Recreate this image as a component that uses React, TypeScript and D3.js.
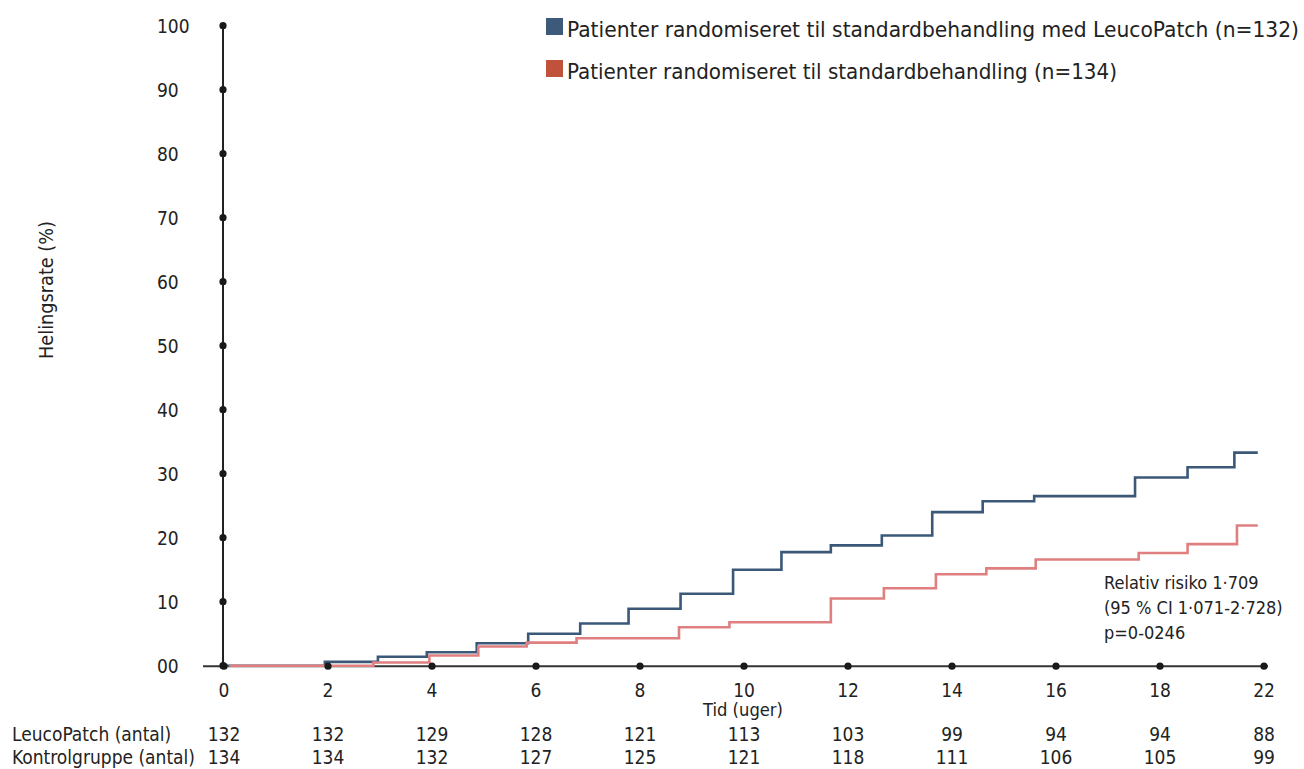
import React from "react";
import * as d3 from "d3";

const yTickValues = [0, 10, 20, 30, 40, 50, 60, 70, 80, 90, 100];
const yTickLabels = ["00", "10", "20", "30", "40", "50", "60", "70", "80", "90", "100"];
const xTickValues = [0, 2, 4, 6, 8, 10, 12, 14, 16, 18, 20];
const xTickLabels = ["0", "2", "4", "6", "8", "10", "12", "14", "16", "18", "22"];

const blueTimes = [0, 1.94, 2.96, 3.9, 4.86, 5.85, 6.85, 7.78, 8.78, 9.79, 10.72, 11.67, 12.65, 13.62, 14.59, 15.58, 17.52, 18.53, 19.43, 19.88];
const blueValues = [0, 0.6, 1.4, 2.1, 3.5, 5.0, 6.6, 8.9, 11.25, 15.0, 17.75, 18.8, 20.35, 24.0, 25.7, 26.5, 29.4, 31.0, 33.3, 33.3];
const redTimes = [0.1, 2.87, 3.95, 4.89, 5.82, 6.78, 8.75, 9.72, 11.67, 12.69, 13.69, 14.66, 15.61, 17.59, 18.53, 19.48, 19.88];
const redValues = [0, 0.5, 1.6, 3.0, 3.6, 4.3, 6.0, 6.8, 10.5, 12.1, 14.3, 15.2, 16.6, 17.6, 19.0, 21.9, 21.9];

const leucoCounts = [132, 132, 129, 128, 121, 113, 103, 99, 94, 94, 88];
const kontrolCounts = [134, 134, 132, 127, 125, 121, 118, 111, 106, 105, 99];

const legendLabels = [
  "Patienter randomiseret til standardbehandling med LeucoPatch (n=132)",
  "Patienter randomiseret til standardbehandling (n=134)",
];
const legendColors = ["#3e5a7a", "#c0523c"];
const annotationLines = ["Relativ risiko 1·709", "(95 % CI 1·071-2·728)", "p=0-0246"];

const FONT = "'Liberation Sans Narrow', 'DejaVu Sans Condensed', 'Roboto Condensed', 'Noto Sans', sans-serif";

export default function App() {
  const x = d3.scaleLinear().domain([0, 20]).range([224, 1264]);
  const y = d3.scaleLinear().domain([0, 100]).range([665.7, 25.7]);
  const line = d3
    .line<[number, number]>()
    .x((d) => x(d[0]))
    .y((d) => y(d[1]))
    .curve(d3.curveStepAfter);
  const blue = line(blueTimes.map((t, i) => [t, blueValues[i]]));
  const red = line(redTimes.map((t, i) => [t, redValues[i]]));
  const textColor = "#222";

  return (
    <svg
      width={1304}
      height={769}
      style={{ position: "absolute", left: 0, top: 0, display: "block", background: "#fff" }}
      fontFamily={FONT}
    >
      {/* legend */}
      {legendLabels.map((l, i) => (
        <g key={l}>
          <rect x={546} y={18 + i * 42} width={17} height={17} fill={legendColors[i]} />
          <text
            x={567}
            y={37 + i * 42}
            fontSize={22}
            fill={textColor}
            textLength={i === 0 ? 732 : 550}
            lengthAdjust="spacingAndGlyphs"
          >
            {l}
          </text>
        </g>
      ))}

      {/* axes */}
      <line x1={x(0) - 1} x2={x(0) - 1} y1={y(100)} y2={y(0)} stroke="#222" strokeWidth={2} />
      <line x1={203} x2={1268} y1={y(0) + 0.5} y2={y(0) + 0.5} stroke="#333" strokeWidth={2} />

      {/* curves */}
      <path d={blue || ""} fill="none" stroke="#3b5878" strokeWidth={2.6} />
      <path d={red || ""} fill="none" stroke="#e07f80" strokeWidth={2.6} />

      {/* y ticks */}
      {yTickValues.map((v, i) => (
        <g key={v}>
          <circle cx={x(0) - 1} cy={y(v)} r={3.6} fill="#1a1a1a" />
          <text x={157} y={y(v) + 7} fontSize={19} fill={textColor}>
            {yTickLabels[i]}
          </text>
        </g>
      ))}
      {/* x ticks */}
      {xTickValues.map((v, i) => (
        <g key={v}>
          <circle cx={x(v)} cy={y(0) + 0.5} r={3.6} fill="#1a1a1a" />
          <text x={x(v)} y={697} fontSize={19} textAnchor="middle" fill={textColor}>
            {xTickLabels[i]}
          </text>
          <text x={x(v)} y={741} fontSize={19} textAnchor="middle" fill={textColor}>
            {leucoCounts[i]}
          </text>
          <text x={x(v)} y={764} fontSize={19} textAnchor="middle" fill={textColor}>
            {kontrolCounts[i]}
          </text>
        </g>
      ))}

      <text x={743} y={716} fontSize={17} textAnchor="middle" fill={textColor} textLength={80} lengthAdjust="spacingAndGlyphs">
        Tid (uger)
      </text>
      <text
        transform={`translate(53, 290) rotate(-90)`}
        fontSize={19}
        textAnchor="middle"
        fill={textColor}
        textLength={138}
        lengthAdjust="spacingAndGlyphs"
      >
        Helingsrate (%)
      </text>

      <text x={12} y={741} fontSize={19} fill={textColor}>LeucoPatch (antal)</text>
      <text x={12} y={764} fontSize={19} fill={textColor}>Kontrolgruppe (antal)</text>

      {annotationLines.map((t, i) => (
        <text key={t} x={1104} y={589 + i * 25} fontSize={18} fill={textColor}>
          {t}
        </text>
      ))}
    </svg>
  );
}
